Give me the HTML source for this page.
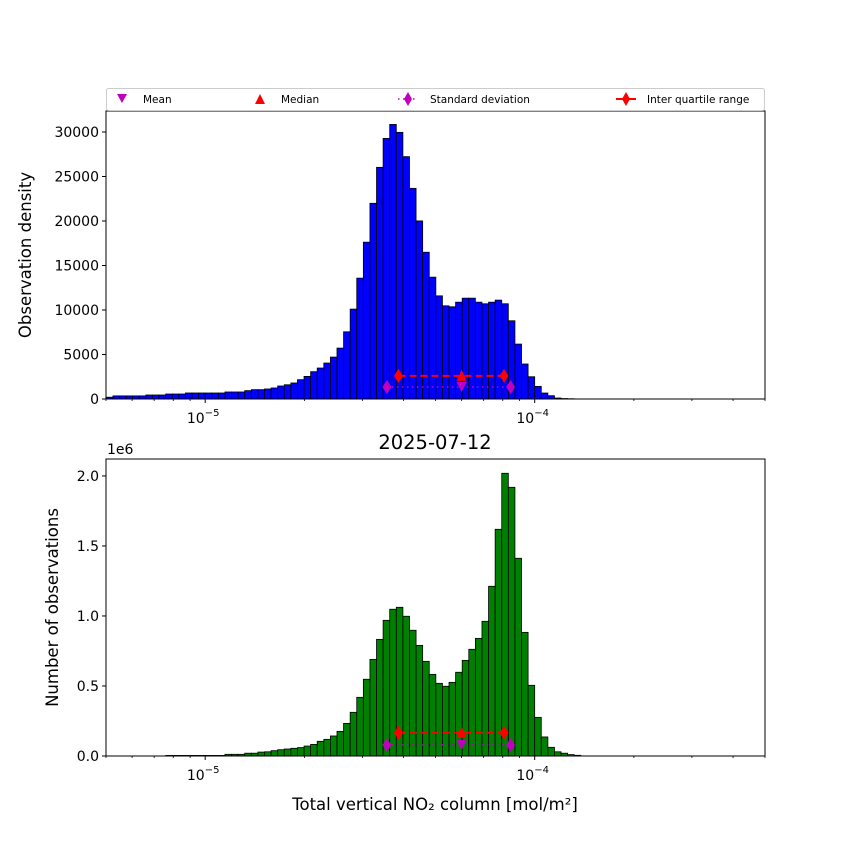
<!DOCTYPE html>
<html><head><meta charset="utf-8"><style>
body{margin:0;background:#fff}
svg text{font-family:"DejaVu Sans","Liberation Sans",sans-serif;fill:#000}
</style></head><body>
<svg id="c" width="850" height="850" xmlns="http://www.w3.org/2000/svg"></svg>
<script>
const logStart = -5.30, binStep = 0.02;
const topCounts = [200,350,350,350,350,350,450,450,450,560,560,560,675,675,675,675,675,675,790,790,790,940,1050,1050,1125,1240,1460,
1600,1800,2170,2540,3070,3480,4040,4710,5720,7550,10100,13580,17620,21990,26030,29280,30850,29960,27230,23670,20010,16490,13690,11590,10470,10360,10880,11330,11330,10880,10700,10880,11110,10700,8790,6170,3930,2500,1420,670,370,110,50,30,10,5,0,0,0,0,0,0,0,0,0,0,0,0,0,0,0,0,0,0,0,0,0,0,0,0,0,0,0];
const bottomCounts = [0,0,0,0,0,0,0,0,0,0.004,0.004,0.004,0.004,0.004,0.004,0.004,0.004,0.004,0.012,0.012,0.012,0.02,0.02,0.028,0.03,0.038,0.045,
0.05,0.055,0.06,0.071,0.083,0.105,0.119,0.143,0.176,0.233,0.312,0.419,0.548,0.690,0.833,0.969,1.048,1.062,0.998,0.898,0.790,0.676,0.583,0.519,0.498,0.526,0.598,0.683,0.762,0.840,0.962,1.212,1.619,2.019,1.919,1.412,0.883,0.505,0.276,0.136,0.062,0.03,0.02,0.01,0.005,0,0,0,0,0,0,0,0,0,0,0,0,0,0,0,0,0,0,0,0,0,0,0,0,0,0,0,0];
const topTicks = [0,5000,10000,15000,20000,25000,30000];
const bottomTicks = [0,0.5,1.0,1.5,2.0];
const bottomTickLabels = ["0.0","0.5","1.0","1.5","2.0"];
const stats = {mean:6.0e-5, median:6.0e-5, q1:3.86e-5, q3:8.07e-5, sdLo:3.56e-5, sdHi:8.45e-5};
const topStatY = {iqr:2600, sd:1350};
const bottomStatY = {iqr:0.166, sd:0.079};

const NS="http://www.w3.org/2000/svg", svg=document.getElementById('c');
function el(tag,attrs,parent){const e=document.createElementNS(NS,tag);for(const k in attrs)e.setAttribute(k,attrs[k]);(parent||svg).appendChild(e);return e;}
const X0=106,X1=765,LMIN=Math.log10(5e-6),LMAX=Math.log10(5e-4);
function xs(v){return X0+(Math.log10(v)-LMIN)/(LMAX-LMIN)*(X1-X0);}
function xl(l){return X0+(l-LMIN)/(LMAX-LMIN)*(X1-X0);}

function panel(cfg){
  const g=el('g',{});
  
  
  const ys=v=>cfg.yb-(v/cfg.ymax)*(cfg.yb-cfg.yt);
  const cp=el('clipPath',{id:cfg.name+'-clip'},g);
  el('rect',{x:X0,y:cfg.yt,width:X1-X0,height:cfg.yb-cfg.yt},cp);
  const bars=el('g',{'clip-path':'url(#'+cfg.name+'-clip)'},g);
  cfg.data.forEach((v,i)=>{
    if(v<=0)return;
    const a=xl(logStart+i*binStep),b=xl(logStart+(i+1)*binStep);
    const r=el('rect',{x:a,y:ys(v),width:b-a,height:ys(0)-ys(v),fill:cfg.color,stroke:'#000','stroke-width':0.8},bars);
    
    
  });
  const iy=ys(cfg.st.iqr),sy=ys(cfg.st.sd);
  el('line',{x1:xs(stats.sdLo),x2:xs(stats.sdHi),y1:sy,y2:sy,stroke:'#bf00bf','stroke-width':1.5,'stroke-dasharray':'1.5,3.5'},g);
  [stats.sdLo,stats.sdHi].forEach(v=>{const d=el('path',{d:`M${xs(v)},${sy-7}L${xs(v)+4.5},${sy}L${xs(v)},${sy+7}L${xs(v)-4.5},${sy}Z`,fill:'#bf00bf'},g);});
  const mx=xs(stats.mean);
  const mm=el('path',{d:`M${mx-5},${sy-5}L${mx+5},${sy-5}L${mx},${sy+5}Z`,fill:'#bf00bf'},g);
  
  el('line',{x1:xs(stats.q1),x2:xs(stats.q3),y1:iy,y2:iy,stroke:'#f00','stroke-width':2,'stroke-dasharray':'7,4'},g);
  [stats.q1,stats.q3].forEach(v=>{const d=el('path',{d:`M${xs(v)},${iy-7}L${xs(v)+4.5},${iy}L${xs(v)},${iy+7}L${xs(v)-4.5},${iy}Z`,fill:'#f00'},g);});
  const md=xs(stats.median);
  const me=el('path',{d:`M${md-5},${iy+5}L${md+5},${iy+5}L${md},${iy-6}Z`,fill:'#f00'},g);
  
  el('rect',{x:X0,y:cfg.yt,width:X1-X0,height:cfg.yb-cfg.yt,fill:'none',stroke:'#000','stroke-width':1},g);
  cfg.ticks.forEach((t,i)=>{const y=ys(t);el('line',{x1:X0-4,x2:X0,y1:y,y2:y,stroke:'#000'},g);
    const tx=el('text',{x:X0-7,y:y+5,'text-anchor':'end','font-size':14},g);tx.textContent=cfg.labels[i];
    });
  for(let e=-6;e<=-3;e++)for(let m=1;m<=9;m++){const v=m*Math.pow(10,e);const l=Math.log10(v);if(l<LMIN-1e-9||l>LMAX+1e-9)continue;
    const x=xs(v);el('line',{x1:x,x2:x,y1:cfg.yb,y2:cfg.yb+(m==1?4:2),stroke:'#000','stroke-width':m==1?1:0.8},g);
    if(m==1){const tx=el('text',{x:x-2,y:cfg.yb+24,'text-anchor':'middle','font-size':14},g);tx.innerHTML='10<tspan dy="-7" font-size="10">−'+(-e)+'</tspan>';
      }}
  const yl=el('text',{transform:`translate(${cfg.ylx},${(cfg.yt+cfg.yb)/2}) rotate(-90)`,'text-anchor':'middle','font-size':16.5},g);
  yl.textContent=cfg.ylabel;
  return g;
}
panel({name:'top-histogram',yt:111,yb:399,ymax:32360,data:topCounts,color:'#0000ff',st:topStatY,ticks:topTicks,labels:topTicks.map(String),ylx:31,ylabel:'Observation density'});
panel({name:'bottom-histogram',yt:459,yb:756,ymax:2.121,data:bottomCounts,color:'#008000',st:bottomStatY,ticks:bottomTicks,labels:bottomTickLabels,ylx:58,ylabel:'Number of observations'});
</script>
<svg width="850" height="850" style="position:absolute;left:0;top:0" xmlns="http://www.w3.org/2000/svg">
<text x="107" y="454" font-size="14">1e6</text>
<text x="435" y="449" font-size="19.5" text-anchor="middle">2025-07-12</text>
<text x="435" y="810" font-size="16.5" text-anchor="middle">Total vertical NO₂ column [mol/m²]</text>
<g>
<rect x="106.5" y="88.5" width="658" height="22" rx="2" fill="#fff" stroke="#ccc"/>
<path d="M117,94L127,94L122,103Z" fill="#bf00bf"/>
<text x="143" y="103" font-size="10.5">Mean</text>
<path d="M255,104L265,104L260,94Z" fill="#f00"/>
<text x="281" y="103" font-size="10.5">Median</text>
<line x1="398" x2="417" y1="99" y2="99" stroke="#bf00bf" stroke-width="1.5" stroke-dasharray="1.5,3.5"/>
<path d="M408,92L412,99L408,106L404,99Z" fill="#bf00bf"/>
<text x="430" y="103" font-size="10.5">Standard deviation</text>
<line x1="616" x2="636" y1="99" y2="99" stroke="#f00" stroke-width="2"/>
<path d="M626,92L630,99L626,106L622,99Z" fill="#f00"/>
<text x="647" y="103" font-size="10.5">Inter quartile range</text>
</g>
</svg>
</body></html>
